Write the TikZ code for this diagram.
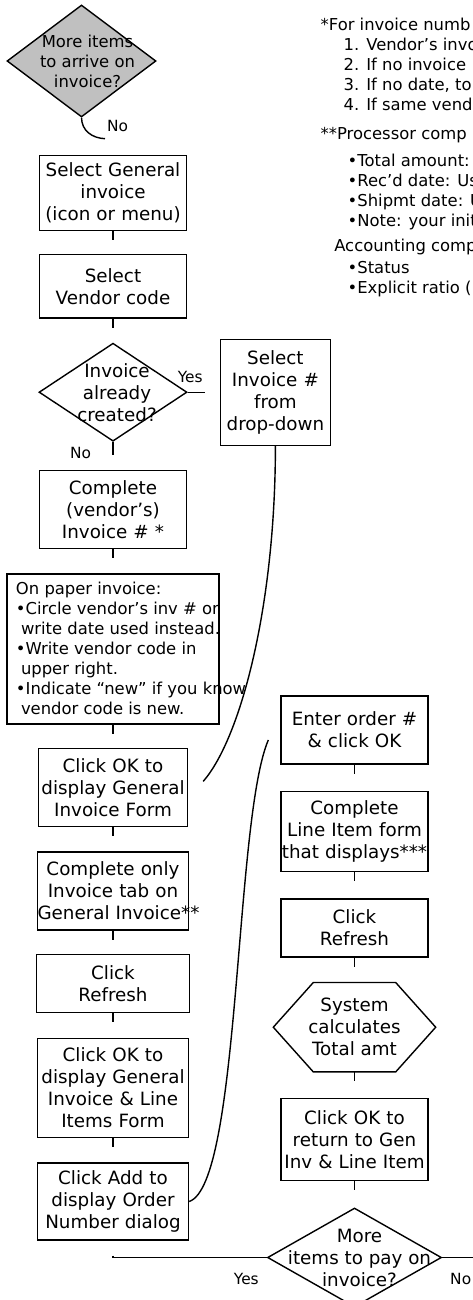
\documentclass[tikz,border=0pt]{standalone}
\usepackage{fontspec}
\setmainfont{DejaVu Sans}
\usepackage{tikz}
\usetikzlibrary{positioning, shapes.geometric}

\definecolor{decisiongray}{RGB}{192,192,192}
\newcommand{\stepfont}{\fontsize{9.15}{11}\selectfont}
\newcommand{\notefont}{\fontsize{8.2}{10}\selectfont}

\begin{document}
\begin{tikzpicture}[node distance=12pt, line width=0.7pt]
    \tikzset{
        stepbox/.style={draw, shape = rectangle, text width=#1, align=center, inner sep=0pt, font=\stepfont},
        stepbox/.default=73.5pt,
        choice/.style={draw, shape = diamond, inner sep=0pt},
        calcbox/.style={shape = rectangle, align=center, inner sep=0pt, font=\stepfont},
        choicetxt/.style={align=center, inner sep=0pt, font=\stepfont},
        notetxt/.style={align=left, anchor=north west, inner sep=0pt, font=\notefont},
        answer/.style={inner sep=0pt, font=\fontsize{7.7}{9}\selectfont}
    }
    \useasboundingbox (0,0) rectangle (236pt,-650pt);

    % left column
    \node[choice, fill=decisiongray, minimum width=74.5pt, minimum height=56pt] (D1) at (40.75pt,-30.5pt) {};
    \node[choicetxt, font=\notefont] (D1txt) at ([xshift=3pt]D1) {More items\\to arrive on\\invoice?};
    \node[stepbox, minimum height=37.5pt] (selgen) [below=18.5pt of D1, xshift=15.75pt] {Select General\\invoice\\(icon or menu)};
    \node[stepbox, minimum height=31.5pt] (selvend) [below=11.5pt of selgen] {Select\\Vendor code};
    \node[choice, minimum width=74pt, minimum height=49pt] (D2) [below=of selvend] {};
    \node[choicetxt] (D2txt) at ([xshift=2pt]D2) {Invoice\\already\\created?};
    \node[stepbox=55pt, minimum height=53pt] (selinv) [right=16pt of D2] {Select\\Invoice \#\\from\\drop-down};
    \node[stepbox, minimum height=39pt] (complete) [below=14pt of D2] {Complete\\(vendor’s)\\Invoice \# *};
    \node[stepbox=106pt, minimum height=75pt] (paper) [below=of complete] {};
    \node[notetxt] (papertxt) at ([xshift=4.5pt,yshift=-4.2pt]paper.north west) {On paper invoice:\\
        •Circle vendor’s inv \# or\\
        \hspace*{2.5pt}write date used instead.\\
        •Write vendor code in\\
        \hspace*{2.5pt}upper right.\\
        •Indicate “new” if you know\\
        \hspace*{2.5pt}vendor code is new.};
    \node[stepbox=74.5pt, minimum height=39pt] (clickok) [below=11.5pt of paper] {Click OK to\\display General\\Invoice Form};
    \node[stepbox=75.5pt, minimum height=39pt] (componly) [below=of clickok] {Complete only\\Invoice tab on\\\mbox{General Invoice**}};
    \node[stepbox=76.5pt, minimum height=29pt] (refresh) [below=11.5pt of componly] {Click\\Refresh};
    \node[stepbox=75.5pt, minimum height=49.5pt] (clickok2) [below=12.5pt of refresh] {Click OK to\\display General\\Invoice \& Line\\Items Form};
    \node[stepbox=75.5pt, minimum height=38.5pt] (clickadd) [below=of clickok2] {Click Add to\\display Order\\Number dialog};

    % right column
    \node[stepbox, minimum height=34pt] (enter) at (177.25pt,-365pt) {Enter order \#\\\& click OK};
    \node[stepbox, minimum height=40pt] (compline) [below=13pt of enter] {Complete\\Line Item form\\that displays***};
    \node[stepbox, minimum height=29pt] (refresh2) [below=13pt of compline] {Click\\Refresh};
    \node[calcbox, minimum width=80.5pt, minimum height=44pt] (sysamt) [below=12.5pt of refresh2] {System\\calculates\\Total amt};
    \draw (sysamt.west) -- ([xshift=20pt]sysamt.north west) -- ([xshift=-20pt]sysamt.north east)
        -- (sysamt.east) -- ([xshift=-20pt]sysamt.south east) -- ([xshift=20pt]sysamt.south west) -- cycle;
    \node[stepbox, minimum height=41pt] (clickok3) [below=13pt of sysamt] {Click OK to\\return to Gen\\Inv \& Line Item};
    \node[choice, minimum width=87pt, minimum height=49.5pt] (D3) [below=13pt of clickok3] {};
    \node[choicetxt] (D3txt) at ([xshift=2.5pt]D3) {More\\items to pay on\\invoice?};

    % footnotes
    \node[notetxt] (notes) at (160pt,-8.5pt) {*For invoice numb\\
        \hspace*{11.5pt}1. Vendor’s invo\\
        \hspace*{11.5pt}2. If no invoice\\
        \hspace*{11.5pt}3. If no date, to\\
        \hspace*{11.5pt}4. If same vend\\[4.5pt]
        **Processor comp\\[3.5pt]
        \hspace*{13.5pt}•Total amount:\\
        \hspace*{13.5pt}•Rec’d date: Us\\
        \hspace*{13.5pt}•Shipmt date: U\\
        \hspace*{13.5pt}•Note: your init\\[2.5pt]
        \hspace*{6.8pt}Accounting comp\\[1pt]
        \hspace*{13.5pt}•Status\\
        \hspace*{13.5pt}•Explicit ratio (};

    % answers
    \node[answer] (no1) at ([xshift=18pt,yshift=-4pt]D1.south) {No};
    \node[answer] (yes2) at ([xshift=1.25pt,yshift=7.5pt]D2.east) {Yes};
    \node[answer] (no2) at ([xshift=-16.25pt,yshift=-5.5pt]D2.south) {No};
    \node[answer] (yes3) at ([xshift=-10.25pt,yshift=-10.75pt]D3.west) {Yes};
    \node[answer] (no3) at ([xshift=9.25pt,yshift=-10.75pt]D3.east) {No};

    % connectors
    \coordinate (no1end) at ([xshift=11.75pt,yshift=-10.5pt]D1.south);
    \coordinate (yes2end) at ([xshift=8.5pt]D2.east);
    \coordinate (no2end) at ([yshift=-6.5pt]D2.south);
    \coordinate (okend) at ([xshift=7.5pt,yshift=3pt]clickok.east);
    \coordinate (addend) at ([xshift=-6pt,yshift=-5pt]enter.west);
    \coordinate (yesend) at ([yshift=-7.5pt]clickadd.south);
    \coordinate (noend) at ([xshift=15.25pt]D3.east);

    \draw (D1.south) .. controls +(0.1pt,-6.5pt) and +(-6.5pt,0.3pt) .. (no1end);
    \draw (D2.east) -- (yes2end);
    \draw (D2.south) -- (no2end);
    \draw (selinv.south) .. controls +(0,-80pt) and +(18.75pt,21.5pt) .. (okend);
    \draw (clickadd.east) .. controls +(25.75pt,8.75pt) and +(-17pt,-40pt) .. (addend);
    \draw (yesend) |- (D3.west);
    \draw (D3.east) -- (noend);
    \foreach \n in {selgen, selvend, complete, paper, clickok, componly, refresh, clickok2, enter, compline, refresh2, sysamt, clickok3}
        \draw (\n.south) -- ++(0,-4.5pt);
\end{tikzpicture}
\end{document}
